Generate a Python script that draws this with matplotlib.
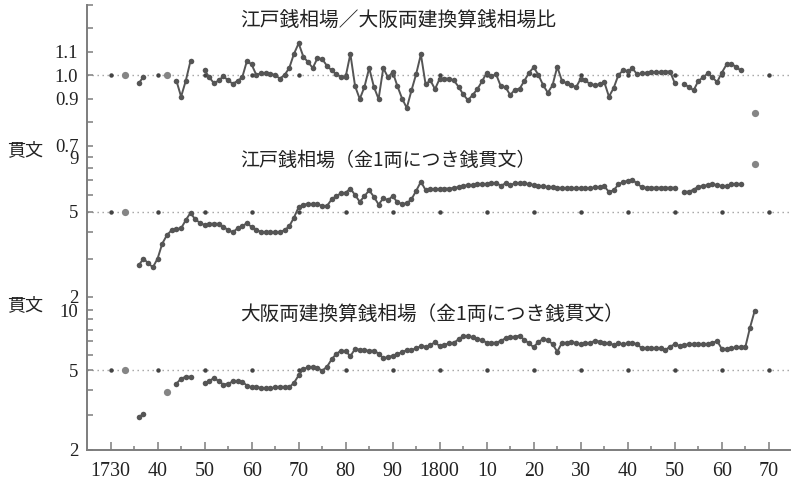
import numpy as np
import matplotlib.pyplot as plt
from matplotlib.ticker import FixedLocator, NullLocator, MultipleLocator

plt.rcParams['font.family'] = ['Noto Sans CJK JP', 'DejaVu Sans']

nan = np.nan
years = list(range(1733, 1868))

# 江戸銭相場／大阪両建換算銭相場比
ratio = [1.0, nan, nan, 0.965, 0.993, nan, nan, nan, nan, 1.0,
         nan, 0.976, 0.908, 0.976, 1.06, nan, nan, 1.021, 0.99, 0.965,
         0.977, 0.995, 0.977, 0.963, 0.975, 0.99, 1.06, 1.045, 1.0, 1.008,
         1.008, 1.005, 1.0, 0.985, 1.0, 1.03, 1.09, 1.135, 1.078, 1.055,
         1.03, 1.072, 1.068, 1.04, 1.02, 1.003, 0.993, 0.993, 1.09, 0.953,
         0.898, 0.95, 1.03, 0.95, 0.898, 1.03, 0.99, 1.013, 0.953, 0.9,
         0.86, 0.935, 1.005, 1.088, 0.96, 0.978, 0.94, 0.985, 0.985, 0.985,
         0.978, 0.95, 0.918, 0.893, 0.915, 0.94, 0.973, 1.01, 0.995, 1.003,
         0.952, 0.948, 0.915, 0.938, 0.942, 0.975, 1.01, 1.033, 1.0, 0.957,
         0.925, 0.957, 1.035, 0.975, 0.965, 0.957, 0.948, 0.985, 0.978, 0.96,
         0.958, 0.96, 0.97, 0.908, 0.945, 1.0, 1.02, 1.017, 1.028, 1.003,
         1.007, 1.01, 1.013, 1.013, 1.013, 1.015, 1.015, 0.965, nan, 0.96,
         0.95, 0.935, 0.975, 0.99, 1.007, 0.99, 0.97, 1.01, 1.045, 1.048,
         1.035, 1.02, nan, nan, 0.84]

# 江戸銭相場（金1両につき銭貫文）
edo = [5.0, nan, nan, 2.81, 3.02, 2.87, 2.75, 3.02, 3.55, 3.89,
       4.10, 4.15, 4.18, 4.57, 4.94, 4.60, 4.44, 4.33, 4.38, 4.40,
       4.38, 4.25, 4.10, 4.01, 4.18, 4.28, 4.42, 4.24, 4.10, 4.03,
       4.00, 4.00, 4.00, 4.01, 4.10, 4.27, 4.69, 5.25, 5.40, 5.43,
       5.43, 5.43, 5.31, 5.31, 5.70, 5.91, 6.09, 6.13, 6.41, 5.98,
       5.56, 5.91, 6.29, 5.87, 5.40, 5.77, 5.66, 5.91, 5.53, 5.43,
       5.47, 5.72, 6.26, 6.90, 6.31, 6.36, 6.37, 6.37, 6.41, 6.41,
       6.45, 6.52, 6.59, 6.66, 6.66, 6.70, 6.73, 6.73, 6.77, 6.80,
       6.62, 6.77, 6.63, 6.80, 6.80, 6.77, 6.73, 6.66, 6.59, 6.56,
       6.52, 6.49, 6.47, 6.45, 6.45, 6.45, 6.45, 6.45, 6.45, 6.45,
       6.49, 6.52, 6.56, 6.19, 6.29, 6.70, 6.88, 6.97, 7.02, 6.78,
       6.49, 6.47, 6.47, 6.47, 6.47, 6.47, 6.47, 6.47, nan, 6.19,
       6.20, 6.34, 6.54, 6.59, 6.66, 6.71, 6.66, 6.59, 6.56, 6.71,
       6.75, 6.73, nan, nan, 8.32]

# 大阪両建換算銭相場（金1両につき銭貫文）
osaka = [5.0, nan, nan, 2.93, 3.02, nan, nan, nan, nan, 3.90,
         nan, 4.29, 4.55, 4.65, 4.65, nan, nan, 4.31, 4.43, 4.58,
         4.42, 4.25, 4.29, 4.40, 4.40, 4.39, 4.20, 4.12, 4.15, 4.08,
         4.07, 4.07, 4.11, 4.15, 4.13, 4.12, 4.33, 4.72, 5.08, 5.18,
         5.21, 5.14, 4.99, 5.20, 5.67, 6.05, 6.27, 6.25, 5.88, 6.41,
         6.35, 6.29, 6.27, 6.27, 6.07, 5.75, 5.83, 5.92, 6.04, 6.16,
         6.32, 6.32, 6.45, 6.60, 6.58, 6.67, 6.93, 6.60, 6.70, 6.83,
         6.87, 7.15, 7.43, 7.43, 7.33, 7.15, 7.10, 6.87, 6.87, 6.87,
         7.03, 7.23, 7.33, 7.37, 7.46, 7.10, 6.83, 6.52, 6.97, 7.15,
         7.10, 6.77, 6.20, 6.87, 6.87, 6.97, 6.83, 6.77, 6.83, 6.87,
         7.03, 6.97, 6.83, 6.83, 6.70, 6.83, 6.75, 6.83, 6.87, 6.75,
         6.45, 6.45, 6.45, 6.45, 6.45, 6.32, 6.58, 6.75, 6.63, 6.70,
         6.75, 6.75, 6.75, 6.75, 6.75, 6.85, 7.02, 6.40, 6.40, 6.45,
         6.52, 6.52, 6.54, 8.19, 9.94]

decades = list(range(1730, 1871, 10))
xlabels = ['1730', '40', '50', '60', '70', '80', '90', '1800',
           '10', '20', '30', '40', '50', '60', '70']

W, H = 794, 483
GRAY = '#7d7d7d'
INK = '#555555'

fig = plt.figure(figsize=(W / 100, H / 100), dpi=100)


def box(top, bottom):
    # pixel rows -> figure fraction
    return [87.3 / W, (H - bottom) / H, (790 - 87.3) / W, (bottom - top) / H]


ax_r = fig.add_axes(box(4.5, 151))
ax_e = fig.add_axes(box(151, 303))
ax_o = fig.add_axes(box(303, 450))

for ax in (ax_r, ax_e, ax_o):
    ax.set_xlim(1725.05, 1874.5)
    ax.patch.set_visible(False)
    ax.spines['top'].set_visible(False)
    ax.spines['right'].set_visible(False)
    ax.spines['left'].set_color(GRAY)
    ax.spines['left'].set_linewidth(1.4)
    ax.tick_params(axis='y', which='both', direction='in', length=4,
                   width=1.1, color=GRAY, pad=6.5, labelcolor='#222')

for ax in (ax_r, ax_e):
    ax.spines['bottom'].set_visible(False)
    ax.tick_params(axis='x', which='both', bottom=False, labelbottom=False)

serif = dict(fontfamily='Liberation Serif', fontsize=13.5)

# top: ratio, linear
ax_r.set_ylim(0.677, 1.3)
ax_r.set_yticks([0.7, 0.8, 0.9, 1.0, 1.1, 1.2, 1.3],
                ['0.7', '', '0.9', '1.0', '1.1', '', ''], **serif)

# middle: Edo, log
ax_e.set_yscale('log')
ax_e.set_ylim(1.873, 9.6)
ax_e.set_yticks([2, 3, 4, 5, 6, 7, 8, 9],
                ['2', '', '', '5', '', '', '', '9'], **serif)
ax_e.yaxis.set_minor_locator(NullLocator())

# bottom: Osaka, log
ax_o.set_yscale('log')
ax_o.set_ylim(2, 10.86)
ax_o.set_yticks([2, 3, 4, 5, 6, 7, 8, 9, 10],
                ['2', '', '', '5', '', '', '', '', '10'], **serif)
ax_o.yaxis.set_minor_locator(NullLocator())

ax_o.spines['bottom'].set_color(GRAY)
ax_o.spines['bottom'].set_linewidth(1.4)
ax_o.set_xticks(decades, xlabels, fontfamily='Liberation Serif', fontsize=14.4)
ax_o.xaxis.set_minor_locator(MultipleLocator(5))
ax_o.tick_params(axis='x', which='major', direction='in', length=6, width=1.1,
                 color=GRAY, pad=9, labelcolor='#222')
ax_o.tick_params(axis='x', which='minor', direction='in', length=3, width=1.1,
                 color=GRAY)


def ref_line(ax, yv):
    ax.axhline(yv, color='#a0a0a0', lw=1.0, ls=(0, (1, 2.6)), zorder=1)
    ax.plot(decades, [yv] * len(decades), ls='none', marker='o', ms=2.2,
            color='#444444', zorder=2)


def draw(ax, vals):
    v = np.array(vals, dtype=float)
    yr = np.array(years)
    ax.plot(yr, v, color=INK, lw=1.4, marker='o', ms=4.0, mew=0, zorder=3)
    prev = np.r_[nan, v[:-1]]
    nxt = np.r_[v[1:], nan]
    iso = ~np.isnan(v) & np.isnan(prev) & np.isnan(nxt)
    ax.plot(yr[iso], v[iso], ls='none', marker='o', ms=5.2, mew=0,
            color='#858585', zorder=4)


ref_line(ax_r, 1.0)
ref_line(ax_e, 5)
ref_line(ax_o, 5)
draw(ax_r, ratio)
draw(ax_e, edo)
draw(ax_o, osaka)

ax_r.text(1757.5, 1.228, '江戸銭相場／大阪両建換算銭相場比', fontsize=14.2,
          ha='left', va='center', color='#222')
ax_e.text(1757.5, 8.71, '江戸銭相場（金1両につき銭貫文）', fontsize=13.7,
          ha='left', va='center', color='#222')
ax_o.text(1757.5, 9.41, '大阪両建換算銭相場（金1両につき銭貫文）', fontsize=14.1,
          ha='left', va='center', color='#222')

fig.text(25 / W, 1 - 150 / H, '貫文', fontsize=13, ha='center', va='center', color='#222')
fig.text(25 / W, 1 - 305 / H, '貫文', fontsize=13, ha='center', va='center', color='#222')

fig.savefig('out.png', dpi=100)
